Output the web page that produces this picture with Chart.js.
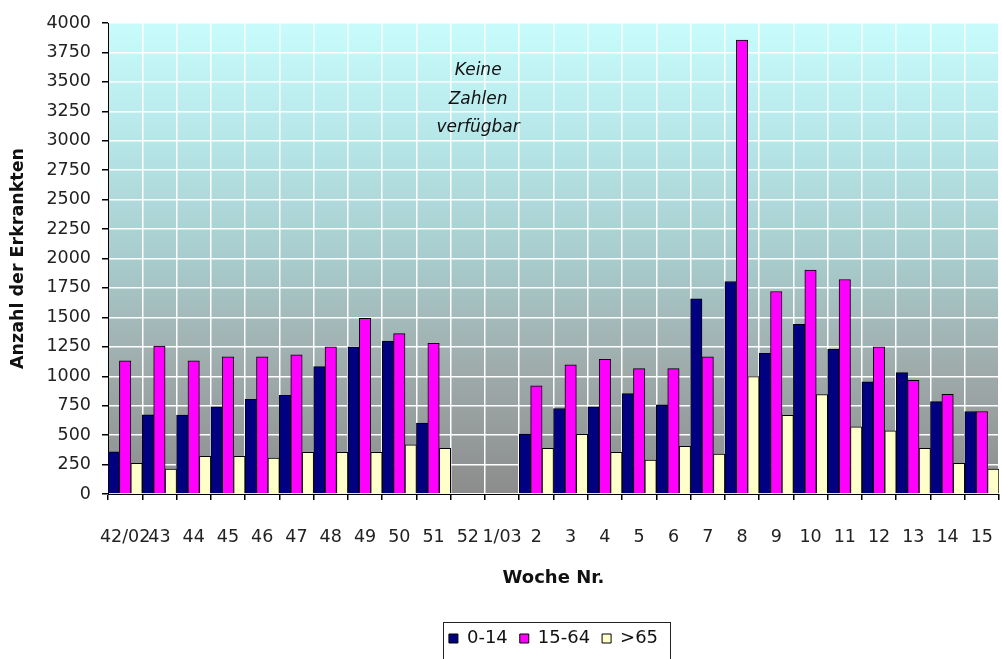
<!DOCTYPE html>
<html lang="de">
<head>
<meta charset="UTF-8">
<title>Anzahl der Erkrankten je Woche</title>
<style>
  html, body { margin: 0; padding: 0; background: #fff; }
  #wrap { width: 1002px; height: 659px; position: relative; }
</style>
</head>
<body>
<div id="wrap"><canvas id="chart"></canvas></div>

<script src="https://cdn.jsdelivr.net/npm/chart.js"></script>
<script>
// Kalenderwochen 42/2002 bis 15/2003
const weeks = ['42/02', '43', '44', '45', '46', '47', '48', '49', '50', '51', '52', '1/03',
  '2', '3', '4', '5', '6', '7', '8', '9', '10', '11', '12', '13', '14', '15'];

// Erkrankte nach Altersgruppe (52 und 1/03: keine Zahlen)
const age0to14 = [358, 672, 670, 740, 805, 839, 1082, 1249, 1299, 602, null, null,
  508, 726, 740, 853, 757, 1658, 1805, 1195, 1441, 1229, 952, 1031, 785, 701];
const age15to64 = [1130, 1257, 1130, 1164, 1164, 1181, 1249, 1492, 1362, 1280, null, null,
  918, 1096, 1144, 1065, 1065, 1164, 3856, 1720, 1901, 1822, 1249, 966, 847, 701];
const age65plus = [260, 212, 319, 320, 305, 353, 353, 353, 418, 387, null, null,
  387, 506, 353, 288, 404, 339, 997, 669, 845, 570, 537, 387, 260, 212];

const yTicks = [0, 250, 500, 750, 1000, 1250, 1500, 1750, 2000, 2250, 2500, 2750,
  3000, 3250, 3500, 3750, 4000];

const noteLines = ['Keine', 'Zahlen', 'verfügbar'];
const noteValues = [3600, 3350, 3110];   // Höhe der Zeilen auf der y-Achse

const FONT = "'DejaVu Sans', sans-serif";

// Hintergrund der Zeichenfläche: Verlauf von hellcyan nach grau
const plotBackground = {
  id: 'plotBackground',
  beforeDraw(chart) {
    const {ctx, chartArea: a} = chart;
    const g = ctx.createLinearGradient(0, a.top, 0, a.bottom);
    g.addColorStop(0, '#c8fcfc');
    g.addColorStop(0.25, '#b6e6e8');
    g.addColorStop(0.5, '#a8cccd');
    g.addColorStop(0.72, '#a0adad');
    g.addColorStop(1, '#8c8c8c');
    ctx.save();
    ctx.fillStyle = g;
    ctx.fillRect(a.left, a.top, a.right - a.left, a.bottom - a.top);
    ctx.restore();
  }
};

// Hinweistext über der Lücke
const noteText = {
  id: 'noteText',
  afterDatasetsDraw(chart) {
    const {ctx, scales: {x, y}} = chart;
    const cx = x.getPixelForValue(10.3);
    ctx.save();
    ctx.font = 'italic 17px ' + FONT;
    ctx.fillStyle = '#111';
    ctx.textAlign = 'center';
    ctx.textBaseline = 'middle';
    noteLines.forEach((t, i) => ctx.fillText(t, cx, y.getPixelForValue(noteValues[i])));
    ctx.restore();
  }
};

// Rahmen um die Legende
const legendFrame = {
  id: 'legendFrame',
  afterDraw(chart) {
    const lg = chart.legend;
    const hb = lg.legendHitBoxes;
    if (!hb || !hb.length) return;
    const last = hb[hb.length - 1];
    const l = hb[0].left - 6;
    const r = last.left + last.width + 12;
    const ctx = chart.ctx;
    ctx.save();
    ctx.strokeStyle = '#222';
    ctx.lineWidth = 1;
    ctx.strokeRect(Math.round(l) + 0.5, Math.round(lg.top + 4) + 0.5, Math.round(r - l), 40);
    ctx.restore();
  }
};

const barStyle = { borderColor: '#000', borderWidth: 1, categoryPercentage: 1, barPercentage: 1 };

new Chart(document.getElementById('chart'), {
  type: 'bar',
  data: {
    labels: weeks,
    datasets: [
      { label: '0-14', data: age0to14, backgroundColor: '#000080', ...barStyle },
      { label: '15-64', data: age15to64, backgroundColor: '#ff00ff', ...barStyle },
      { label: '>65', data: age65plus, backgroundColor: '#ffffcc', ...barStyle }
    ]
  },
  options: {
    responsive: true,
    maintainAspectRatio: false,
    animation: false,
    layout: { padding: { top: 23, right: 3, left: 0, bottom: 1.5 } },
    plugins: {
      tooltip: { enabled: false },
      legend: {
        position: 'bottom',
        fullSize: false,
        labels: {
          font: { family: FONT, size: 18 },
          color: '#111',
          boxWidth: 9,
          boxHeight: 9,
          padding: 12
        }
      }
    },
    scales: {
      x: {
        grid: { color: '#ffffff', lineWidth: 1.5, tickColor: '#000', tickLength: 6, offset: true },
        border: { color: '#000', width: 1 },
        ticks: {
          font: { family: FONT, size: 17.5 },
          color: '#222',
          padding: 27,
          maxRotation: 0,
          autoSkip: false
        },
        title: {
          display: true,
          text: 'Woche Nr.',
          font: { family: FONT, size: 18, weight: 'bold' },
          color: '#111',
          padding: { top: 0, bottom: 28.7 }
        },
        afterFit(scale) {
          scale.height = 123.5;
          scale.paddingLeft = 0;
          scale.paddingRight = 0;
        }
      },
      y: {
        min: 0,
        max: 4000,
        grid: { color: '#ffffff', lineWidth: 1.5, tickColor: '#000', tickLength: 6 },
        border: { color: '#000', width: 1 },
        afterBuildTicks(scale) { scale.ticks = yTicks.map(v => ({ value: v })); },
        ticks: {
          font: { family: FONT, size: 17.5 },
          color: '#222',
          padding: 11,
          callback: v => String(v)
        },
        title: {
          display: true,
          text: 'Anzahl der Erkrankten',
          font: { family: FONT, size: 17.5, weight: 'bold' },
          color: '#111',
          padding: { top: 7.5, bottom: 0 }
        },
        afterFit(scale) { scale.width = 108; }
      }
    }
  },
  plugins: [plotBackground, noteText, legendFrame]
});
</script>
</body>
</html>
